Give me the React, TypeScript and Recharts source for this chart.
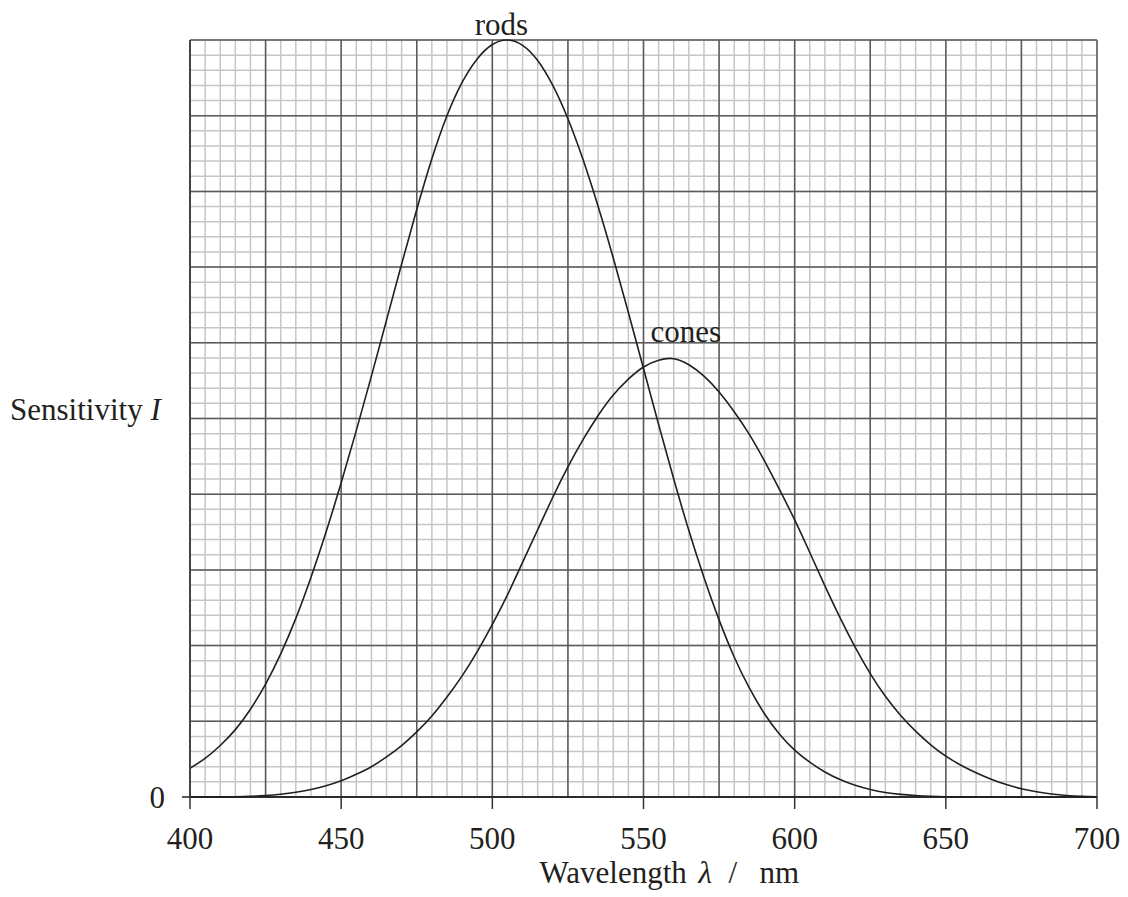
import { LineChart, Line, XAxis, YAxis, ReferenceLine, ReferenceDot } from "recharts";

// wavelength samples (nm)
const WAVELENGTHS = [
  400, 405, 410, 415, 420, 425, 430, 435, 440, 445, 450, 455, 460, 465, 470, 475, 480, 485, 490, 495,
  500, 505, 510, 515, 520, 525, 530, 535, 540, 545, 550, 555, 560, 565, 570, 575, 580, 585, 590, 595,
  600, 605, 610, 615, 620, 625, 630, 635, 640, 645, 650, 655, 660, 665, 670, 675, 680, 685, 690, 695,
  700,
];

// sensitivity (peak of rods = 100)
const RODS = [
  3.8, 5.1, 6.8, 8.9, 11.6, 14.9, 18.9, 23.6, 29.0, 35.0, 41.5, 48.4, 55.6, 63.0, 70.4, 77.6, 84.3, 90.0, 94.4, 97.5,
  99.4, 100, 99.3, 97.3, 94.0, 89.6, 84.2, 78.0, 71.2, 64.0, 56.6, 49.2, 42.0, 35.2, 29.0, 23.4, 18.5, 14.4, 11.0, 8.3,
  6.2, 4.6, 3.3, 2.3, 1.55, 1.0, 0.6, 0.35, 0.2, 0.1, 0.04, 0.01, 0, 0, 0, 0, 0, 0, 0, 0,
  0,
];

const CONES = [
  0, 0.005, 0.015, 0.04, 0.09, 0.19, 0.36, 0.62, 1.0, 1.5, 2.15, 3.0, 4.0, 5.3, 6.8, 8.6, 10.7, 13.2, 16.0, 19.2,
  22.8, 26.7, 31.0, 35.3, 39.6, 43.6, 47.2, 50.4, 53.1, 55.2, 56.8, 57.7, 57.9, 57.1, 55.6, 53.5, 50.9, 47.9, 44.4, 40.6,
  36.6, 32.3, 27.9, 23.7, 19.8, 16.3, 13.3, 10.8, 8.7, 6.9, 5.4, 4.2, 3.2, 2.35, 1.65, 1.1, 0.7, 0.4, 0.2, 0.08,
  0.02,
];

const X_TICKS = [400, 450, 500, 550, 600, 650, 700];
const X_MAJOR = [400, 425, 450, 475, 500, 525, 550, 575, 600, 625, 650, 675, 700];
const X_MINOR = Array.from({ length: 61 }, (_, i) => 400 + i * 5);
const Y_MAJOR = [0, 10, 20, 30, 40, 50, 60, 70, 80, 90, 100];
const Y_MINOR = Array.from({ length: 51 }, (_, i) => i * 2);

const data = WAVELENGTHS.map((w, i) => ({ w, rods: RODS[i], cones: CONES[i] }));

const FONT = "'Liberation Serif', 'Times New Roman', serif";
const INK = "#231f20";
const textStyle = { fontFamily: FONT, fontSize: 31, fill: INK };

function XLabel({ viewBox }: any) {
  const cx = viewBox.x + viewBox.width / 2 + 38;
  const y = viewBox.y + 86;
  return (
    <text y={y} style={textStyle}>
      <tspan x={cx - 142}>Wavelength</tspan>
      <tspan x={cx + 17} fontStyle="italic">λ</tspan>
      <tspan x={cx + 47}>/</tspan>
      <tspan x={cx + 78}>nm</tspan>
    </text>
  );
}

function YLabel({ viewBox }: any) {
  return (
    <text x={2} y={viewBox.y + viewBox.height / 2 + 1} textAnchor="start" style={textStyle}>
      Sensitivity <tspan fontStyle="italic">I</tspan>
    </text>
  );
}

export default function App() {
  return (
    <div style={{ width: 1120, height: 889, background: "#fff" }}>
      <LineChart width={1120} height={889} data={data} margin={{ top: 32, right: 31, left: 0, bottom: 30 }}>
        <XAxis
          dataKey="w"
          type="number"
          domain={[400, 700]}
          ticks={X_TICKS}
          interval={0}
          tickSize={12}
          tickMargin={18}
          height={70}
          tick={textStyle}
          tickLine={{ stroke: "#333", strokeWidth: 1.5 }}
          axisLine={{ stroke: INK, strokeWidth: 1.5 }}
          label={{ content: XLabel }}
        />
        <YAxis
          type="number"
          domain={[0, 100]}
          ticks={[0]}
          width={182}
          tickSize={8}
          tickMargin={17}
          tick={textStyle}
          tickLine={{ stroke: INK, strokeWidth: 1.5 }}
          axisLine={{ stroke: "#444", strokeWidth: 2 }}
          label={{ content: YLabel }}
        />
        {X_MINOR.map((v) => (
          <ReferenceLine key={"xm" + v} x={v} stroke="#c6c6c6" strokeWidth={1.5} />
        ))}
        {Y_MINOR.map((v) => (
          <ReferenceLine key={"ym" + v} y={v} stroke="#c6c6c6" strokeWidth={1.5} />
        ))}
        {X_MAJOR.map((v) => (
          <ReferenceLine key={"xM" + v} x={v} stroke="#5a5a5a" strokeWidth={1.5} />
        ))}
        {Y_MAJOR.map((v) => (
          <ReferenceLine key={"yM" + v} y={v} stroke={v === 0 ? INK : "#5a5a5a"} strokeWidth={1.5} />
        ))}
        <Line type="natural" dataKey="rods" stroke={INK} strokeWidth={1.6} dot={false} isAnimationActive={false} />
        <Line type="natural" dataKey="cones" stroke={INK} strokeWidth={1.6} dot={false} isAnimationActive={false} />
        <ReferenceDot
          x={503}
          y={100}
          r={0}
          stroke="none"
          label={{ value: "rods", position: "top", offset: 5, style: textStyle }}
        />
        <ReferenceDot
          x={564}
          y={60}
          r={0}
          stroke="none"
          label={{ value: "cones", position: "top", offset: 1, style: textStyle }}
        />
      </LineChart>
    </div>
  );
}
